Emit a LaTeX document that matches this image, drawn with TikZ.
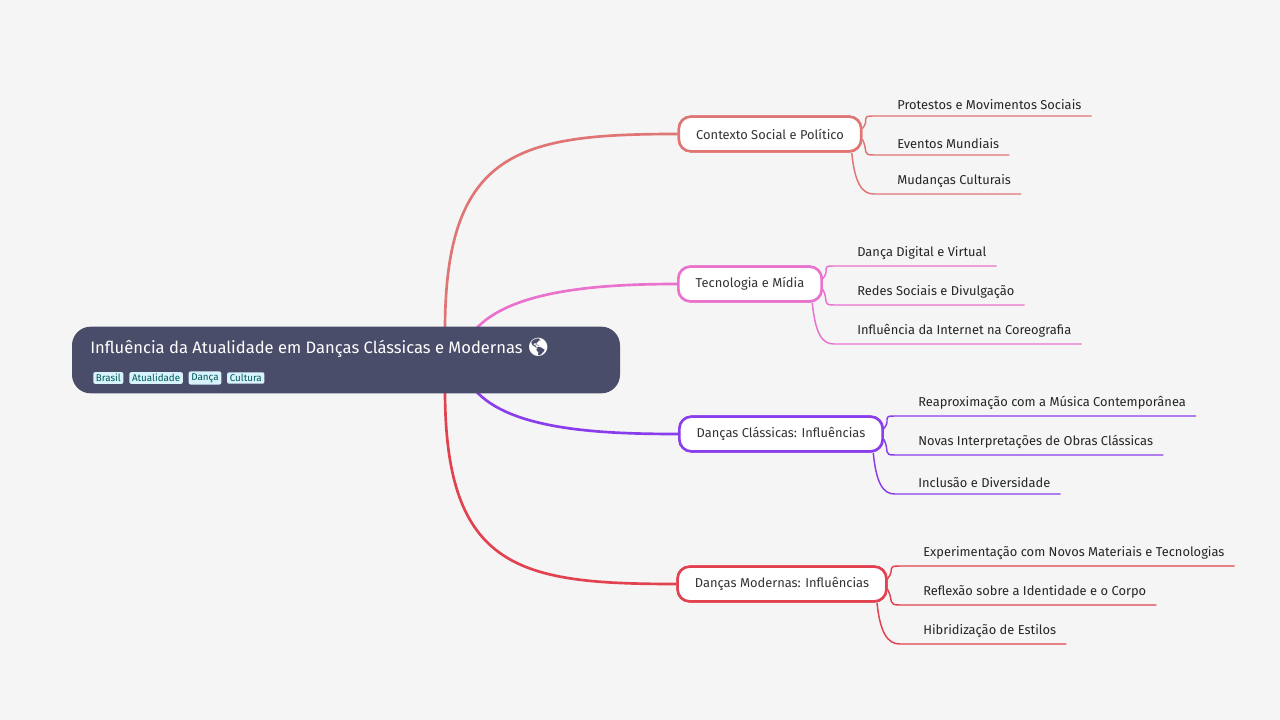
\documentclass[tikz,border=0pt]{standalone}
\usepackage{fontspec}
\setmainfont{Fira Sans}[Scale=0.92]
\newfontfamily\emojifont{Noto Emoji}
\begin{document}
\begin{tikzpicture}[x=0.75pt,y=-0.75pt,
  branchbox/.style={draw=#1,line width=1.9pt,fill=white,rounded corners=9pt,minimum height=26pt,inner xsep=13pt,font=\fontsize{10.5}{12}\selectfont,text=black!80},
  leafnode/.style={anchor=south west,inner xsep=7.5pt,inner ysep=4.5pt,font=\fontsize{10.5}{12}\selectfont,text=black!85},
  mainline/.style={draw=#1,line width=2pt},
  leafline/.style={draw=#1,line width=1.1pt},
  tagbox/.style={fill=cyan!15,text=teal!70!black,rounded corners=1.5pt,inner xsep=2pt,inner ysep=1.5pt,font=\fontsize{8}{9}\selectfont,anchor=west}]
\definecolor{cA}{HTML}{E07575}
\definecolor{cB}{HTML}{EA72CF}
\definecolor{cC}{HTML}{8A3DEB}
\definecolor{cD}{HTML}{E2424F}
\definecolor{rootc}{HTML}{4A4D69}
\fill[fill={rgb,255:red,245;green,245;blue,245}] (0,0) rectangle (1280,720);
\useasboundingbox (0,0) rectangle (1280,720);
% branches
\node[branchbox=cA] (b1) at (770,134) {Contexto Social e Político};
\node[branchbox=cB] (b2) at (750,284) {Tecnologia e Mídia};
\node[branchbox=cC] (b3) at (781,434) {Danças Clássicas: Influências};
\node[branchbox=cD] (b4) at (782,584) {Danças Modernas: Influências};
% root box
\coordinate (r1) at (445,330);
\coordinate (r2) at (475,330);
\coordinate (r3) at (475,390);
\coordinate (r4) at (445,390);
\begin{scope}[on background layer/.style={}]
\draw[mainline=cA] (r1) .. controls (445,150) and (520,134) .. (b1.west);
\draw[mainline=cB] (r2) .. controls (510,290) and (600,284) .. (b2.west);
\draw[mainline=cC] (r3) .. controls (510,430) and (600,434) .. (b3.west);
\draw[mainline=cD] (r4) .. controls (445,570) and (520,584) .. (b4.west);
\end{scope}
\node[branchbox=cA] at (b1) {Contexto Social e Político};
\node[branchbox=cB] at (b2) {Tecnologia e Mídia};
\node[branchbox=cC] at (b3) {Danças Clássicas: Influências};
\node[branchbox=cD] at (b4) {Danças Modernas: Influências};
\node[fill=rootc,rounded corners=14pt,minimum width=411pt,minimum height=50pt] (root) at (346,360) {};
\node[anchor=west,text=white,font=\fontsize{13.5}{15}\selectfont] (title) at (86,348) {Influência da Atualidade em Danças Clássicas e Modernas {\emojifont 🌎}};
\node[tagbox] (t1) at (93,378) {Brasil};
\node[tagbox] (t2) at ([xshift=4pt]t1.east) {Atualidade};
\node[tagbox] (t3) at ([xshift=4pt]t2.east) {Dança};
\node[tagbox] (t4) at ([xshift=4pt]t3.east) {Cultura};
% leaves
\node[leafnode] (l11) at (887,116) {Protestos e Movimentos Sociais};
\node[leafnode] (l12) at (887,155) {Eventos Mundiais};
\node[leafnode] (l13) at (887,194) {Mudanças Culturais};
\node[leafnode] (l21) at (847,266) {Dança Digital e Virtual};
\node[leafnode] (l22) at (847,305) {Redes Sociais e Divulgação};
\node[leafnode] (l23) at (847,344) {Influência da Internet na Coreografia};
\node[leafnode] (l31) at (908,416) {Reaproximação com a Música Contemporânea};
\node[leafnode] (l32) at (908,455) {Novas Interpretações de Obras Clássicas};
\node[leafnode] (l33) at (908,494) {Inclusão e Diversidade};
\node[leafnode] (l41) at (913,566) {Experimentação com Novos Materiais e Tecnologias};
\node[leafnode] (l42) at (913,605) {Reflexão sobre a Identidade e o Corpo};
\node[leafnode] (l43) at (913,644) {Hibridização de Estilos};
\foreach \b/\c in {1/cA,2/cB,3/cC,4/cD}{
  \draw[leafline=\c] ([yshift=4pt]b\b.east) .. controls +(8,-10) and +(-14,0) .. ([xshift=-10pt]l\b1.south west) -- (l\b1.south east);
  \draw[leafline=\c] ([yshift=-4pt]b\b.east) .. controls +(6,12) and +(-12,0) .. ([xshift=-10pt]l\b2.south west) -- (l\b2.south east);
  \draw[leafline=\c] ([xshift=-8pt]b\b.south east) .. controls +(3,30) and +(-12,0) .. ([xshift=-10pt]l\b3.south west) -- (l\b3.south east);
}
\end{tikzpicture}
\end{document}
